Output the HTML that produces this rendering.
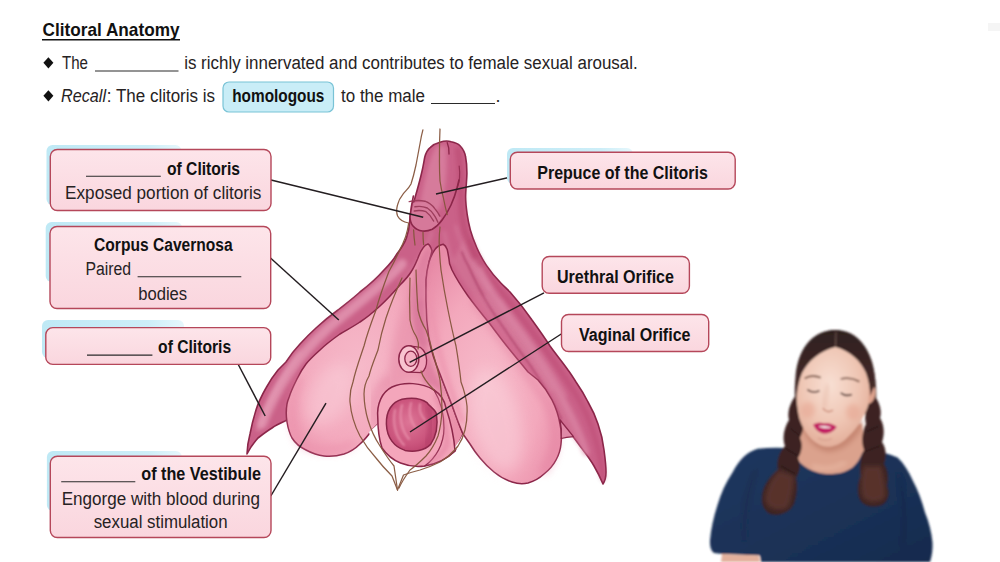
<!DOCTYPE html>
<html>
<head>
<meta charset="utf-8">
<title>Clitoral Anatomy</title>
<style>
html,body{margin:0;padding:0;background:#fff;}
body{width:1000px;height:562px;overflow:hidden;font-family:"Liberation Sans",sans-serif;}
svg{display:block;}
text{font-family:"Liberation Sans",sans-serif;fill:#1a1a1a;}
.b{font-weight:bold;fill:#111;}
.r{fill:#262223;}
.box{fill:url(#gBox);stroke:#b5475a;stroke-width:1.4;}
.sh{fill:url(#gSh);}
.ul{stroke:#2a2a2a;stroke-width:1.1;}
.ld{stroke:#231d20;stroke-width:1.45;fill:none;}
</style>
</head>
<body>
<svg width="1000" height="562" viewBox="0 0 1000 562">
<rect width="1000" height="562" fill="#ffffff"/>

<defs>
<linearGradient id="gBox" x1="0" y1="0" x2="0" y2="1"><stop offset="0" stop-color="#fde5ea"/><stop offset="1" stop-color="#fad6de"/></linearGradient>
<linearGradient id="gSh" x1="0" y1="0" x2="1" y2="0"><stop offset="0" stop-color="#bfe9f5"/><stop offset="0.75" stop-color="#cdeef8"/><stop offset="1" stop-color="#e6f7fc"/></linearGradient>
</defs>
<rect id="smudge" x="988" y="23" width="12" height="8" fill="#f5f5f5"/>
<!-- ===== heading & bullets ===== -->
<g id="heading">
<text class="b" x="42.5" y="35.8" font-size="18.6" textLength="137" lengthAdjust="spacingAndGlyphs">Clitoral Anatomy</text>
<rect x="42" y="39" width="138" height="1.5" fill="#111"/>

<path d="M48.4 57.2 L53.4 62.8 L48.4 68.4 L43.4 62.8Z" fill="#111"/>
<text class="r" x="62" y="69.3" font-size="18" textLength="26" lengthAdjust="spacingAndGlyphs">The</text>
<line class="ul" x1="95" y1="71" x2="178.5" y2="71"/>
<text class="r" x="184.2" y="69.3" font-size="18" textLength="453.5" lengthAdjust="spacingAndGlyphs">is richly innervated and contributes to female sexual arousal.</text>

<path d="M48.4 90.2 L53.4 95.8 L48.4 101.4 L43.4 95.8Z" fill="#111"/>
<text class="r" x="61" y="101.8" font-size="18" font-style="italic" textLength="45" lengthAdjust="spacingAndGlyphs">Recall</text>
<text class="r" x="106.8" y="101.8" font-size="18" textLength="108.2" lengthAdjust="spacingAndGlyphs">: The clitoris is</text>
<rect x="223" y="82" width="110.5" height="30" rx="6" fill="#c9edf7" stroke="#79c3d6" stroke-width="1.2"/>
<text class="b" x="232.2" y="102" font-size="18" textLength="92.2" lengthAdjust="spacingAndGlyphs">homologous</text>
<text class="r" x="341" y="101.8" font-size="18" textLength="84" lengthAdjust="spacingAndGlyphs">to the male</text>
<line class="ul" x1="431" y1="103.5" x2="495" y2="103.5"/>
<text class="r" x="495.5" y="101.8" font-size="18">.</text>
</g>

<!-- ILLUS-BEGIN -->
<defs>
<linearGradient id="gCrusL" x1="0" y1="0" x2="1" y2="1">
<stop offset="0" stop-color="#c65a80"/><stop offset="0.5" stop-color="#cf668b"/><stop offset="1" stop-color="#c4527a"/>
</linearGradient>
<linearGradient id="gCrusR" x1="0" y1="0" x2="1" y2="0.25">
<stop offset="0" stop-color="#d97c9c"/><stop offset="0.45" stop-color="#cf6a8d"/><stop offset="1" stop-color="#bd4a72"/>
</linearGradient>
<radialGradient id="gBulbL" cx="0.42" cy="0.55" r="0.6">
<stop offset="0" stop-color="#f6b9c9"/><stop offset="0.6" stop-color="#f3a9bd"/><stop offset="1" stop-color="#ea90aa"/>
</radialGradient>
<radialGradient id="gBulbR" cx="0.45" cy="0.6" r="0.65">
<stop offset="0" stop-color="#f7bccb"/><stop offset="0.6" stop-color="#f3a8bc"/><stop offset="1" stop-color="#e88ba7"/>
</radialGradient>
<linearGradient id="gBody" x1="0" y1="0" x2="1" y2="0">
<stop offset="0" stop-color="#c25379"/><stop offset="0.35" stop-color="#d67a9a"/><stop offset="0.7" stop-color="#c95f85"/><stop offset="1" stop-color="#b8466e"/>
</linearGradient>
<radialGradient id="gVag" cx="0.45" cy="0.45" r="0.6">
<stop offset="0" stop-color="#dd7596"/><stop offset="0.7" stop-color="#cb557d"/><stop offset="1" stop-color="#bd446e"/>
</radialGradient>
<filter id="bl2" x="-20%" y="-20%" width="140%" height="140%"><feGaussianBlur stdDeviation="2"/></filter>
<filter id="bl4" x="-30%" y="-30%" width="160%" height="160%"><feGaussianBlur stdDeviation="4"/></filter>
<filter id="bl7" x="-30%" y="-30%" width="160%" height="160%"><feGaussianBlur stdDeviation="7"/></filter>
</defs>
<g id="illustration" stroke-linejoin="round" stroke-linecap="round">
<!-- crura + body silhouette -->
<path id="crura" d="M440 142.3 C444 140.8 448 140.6 451.2 141.8 C455 142.6 458 143.8 460 145.8 C463 149 465 153 465.6 157 C466.6 162 466.9 168 466.9 173 C466.8 181 465.6 190 465.6 197 C465.6 203 466.4 209 467.2 214.6 C468 220 469 225 470.4 230.2 C472 236 474.3 242 476.8 247.8 C479.5 254 482.8 260 486.4 265.4 C490.5 271.5 495.5 277.5 500.8 283 C504 286.2 507 289 510 292 C518 301 525.5 310.5 532 320 C538.5 329 544.5 337.5 550 346 C556 354.5 562.5 362 568 370 C571 374 573.5 378 576 382 C580.5 388.5 584.5 395 588 402 C592 409 595.5 416.5 598 424 C601 432.5 603 441.5 604 450 C605 457.5 606 465 606 472 C606 477 605 481 603 484 C600.5 478 597.5 472 594 466 C590 459 585 452.5 580 446 C576 440.5 572 435 568 430 L560 420 L520 400 L430 380 L330 400 L287 420 L285 421 C280.5 423 276 425 272 428 C267 431 262.5 434.5 258 438 C254 442.5 250 448 247 454 C247.2 447 248.3 440.5 250 434 C251.5 426 253.5 418 256 410 C258.5 402 262 395 266 388 C269.5 381.5 273.5 375.5 278 370 L286 362 C290 355.5 294.8 349.5 300 344 C305 338.5 310.5 333 316 328 C323 321.5 330.5 315.5 338 310 C345.5 304 353 298.5 360 292 C368.5 285.5 377 278 384 270 C389 265 393.5 260 396.8 254 C400.8 249 404.4 243.8 406.4 238 C408.2 233 409.3 227.5 409.6 222 L410.4 214.6 C411.5 208.5 413.5 203 415.2 197 C417.5 189 419.8 181 421.6 173 C423 167.5 423.8 162 424.8 157 C426 152.5 427.8 149.5 430.4 147.4 C433 144.8 436.5 143.2 440 142.3Z" fill="#ca6188" stroke="#8b2649" stroke-width="1.6"/>

<!-- right crus lighter inner band -->
<path d="M452 262 C462 282 478 304 496 326 C516 350 540 378 560 420 C566 428 574 438 580 446 C574 420 560 392 544 366 C524 336 500 306 484 282 C474 266 468 250 466 236 Z" fill="#d67b9b" opacity="0.55" filter="url(#bl2)"/>
<path d="M470 240 C478 262 492 282 508 300 C530 328 556 362 578 398 C592 422 600 450 603 478" fill="none" stroke="#b8436c" stroke-width="5" opacity="0.45" filter="url(#bl2)"/>

<path d="M476 262 C484 280 496 300 512 322 C530 346 548 372 562 398 C572 416 580 434 586 452" fill="none" stroke="#dd89a7" stroke-width="7" opacity="0.7" filter="url(#bl2)"/>
<path d="M462 252 C464 258 466 262 468.7 266.3 C473.5 277.5 479 288.8 485.4 299.6 C491.4 310 498 320 505 329.8 C513 342 522 354 530.7 366 C536 374 541 382 545.9 390.3 C552 400 557 409 561 419" fill="none" stroke="#a93b64" stroke-width="1.8" opacity="0.75" filter="url(#pb1)"/>
<!-- left crus highlight -->
<path d="M402 264 C382 286 354 306 328 328 C302 352 278 382 262 424" fill="none" stroke="#e294b0" stroke-width="10" opacity="0.85" filter="url(#bl2)"/>
<path d="M300 352 C284 372 270 396 258 430" fill="none" stroke="#e9a4bc" stroke-width="3" opacity="0.6" filter="url(#bl2)"/>


<path d="M432 232 C426 250 414 268 400 282 M444 232 C446 240 448 250 452 262 M456 226 C462 248 474 270 490 290" fill="none" stroke="#de8dab" stroke-width="2.4" opacity="0.55" filter="url(#bl2)"/>
<path d="M500 300 C522 330 548 362 566 396 M486 296 C506 326 532 356 552 390" fill="none" stroke="#e397b1" stroke-width="2.2" opacity="0.5" filter="url(#bl2)"/>
<!-- left bulb + centre -->
<path id="bulbL" d="M428 244 C424 245 420.5 251 417.6 259 C415.5 264 413.5 268.5 411 272 C408 277 404 281 400 285 C393.5 292.5 387 299.5 380 306 C373.5 312 367 317.5 360 322 C353.5 326.5 346.5 330 340 334 C333 339 326 344 320 350 C315 354.5 310 359 306 364 C302.6 368.4 299.6 373.6 297 379 C294 385 291 391 289.2 397 C288 400 287.3 402 287 404 C286 410 286 416 287 422 C288 428 289.5 433.5 292 438 C295.5 443.5 300.5 447.5 306 450 C311.5 453 317.5 455.3 324 456 C330.5 456.8 337.5 456 344 454 C350 452 355.5 448.5 360 444 C364.5 440 368.5 435 372 430 L378 424 L380 440 L382 448 C387 455 393.5 460 400.5 463 C408 466 416.5 467.3 424.7 466 C435.5 464 446.5 458.5 455 451 L463 434 L440 374 L429 340 L426 300 L426 280 L429 262 L432 251 C431 247.5 429.8 245 428 244Z" fill="url(#gBulbL)" stroke="#8b2649" stroke-width="1.5"/>
<!-- left bulb soft shading -->
<path d="M300 380 C292 400 290 425 300 442 C312 452 336 452 352 444" fill="none" stroke="#e98aa7" stroke-width="6" opacity="0.6" filter="url(#bl4)"/>
<ellipse cx="330" cy="395" rx="20" ry="34" fill="#fad0da" opacity="0.5" filter="url(#bl7)" transform="rotate(28 330 395)"/>
<!-- centre region shading -->
<path d="M412 284 C404 304 396 326 392 348 C390 364 386 384 380 404 C392 392 402 384 412 380 C424 378 436 384 446 398 L440 374 L429 340 L426 300 L426 284Z" fill="#e58aa6" opacity="0.55" filter="url(#bl4)"/>
<path d="M378 424 C372 410 374 392 386 380" fill="none" stroke="#e07d9d" stroke-width="7" opacity="0.5" filter="url(#bl4)"/>

<path d="M424 300 C422 320 424 340 428 352 C430 362 434 372 440 382 L446 396 C440 390 432 386 424 384 L422 372 C426 366 426 356 421 350 C416 340 414 320 416 300Z" fill="#d56f95" opacity="0.55" filter="url(#bl2)"/>
<!-- white leaf below the vestibule -->
<path d="M369 432 C372 446 380 462 390 476 L397.5 490 L404 476 C424 470 448 462 462 442 L463 434 C456 450 440 462 424.7 466 C410 468 392 462 382 448 L378 424Z" fill="#ffffff" stroke="none"/>

<!-- right bulb -->
<path id="bulbR" d="M443.2 244.3 C440 245 437 246.5 435 249.4 C432.5 253 430.3 257.5 429 262 C427.3 268 426.3 274 426 280 L426 300 C426 313.5 427 327 429 340 C431.5 352 435.5 363.5 440 374 C444 384.5 448 395 452 405 C455.5 415 459 425 463 434 L470 444 C473 449 476.5 453.8 480 458 C484.3 463.2 489 468 494 472 C499.5 476.5 505.5 480 512 482 C517.3 483.8 522.7 484.2 528 483 C534 481.3 539.5 478.2 544 474 C549 470 553.3 465.3 556 460 C558.8 455 560.5 449.7 561 444 C561.8 437.5 561.5 430.5 560 424 C558.5 415.5 555.8 407.5 552 400 C548.3 392.8 543.5 386 538 380 L528 372 C522 364.5 516 357.5 510 350 C503 341.5 496.5 332.8 490 324 C482.5 314.8 475 305.5 468 296 C462 287.5 456.5 279 452 270 L449.6 263.8 C449 258.8 448.2 254 447.2 249.4 C446.2 246.8 444.8 245 443.2 244.3Z" fill="url(#gBulbR)" stroke="#8b2649" stroke-width="1.5"/>
<ellipse cx="496" cy="420" rx="24" ry="52" fill="#fad0da" opacity="0.55" filter="url(#bl7)" transform="rotate(-14 496 420)"/>
<path d="M474 300 C496 334 528 372 548 404 C558 426 558 452 544 470" fill="none" stroke="#e27f9f" stroke-width="7" opacity="0.55" filter="url(#bl4)"/>
<path d="M430 290 C432 330 442 370 462 420" fill="none" stroke="#ec93ad" stroke-width="6" opacity="0.6" filter="url(#bl2)"/>
<!-- lighter wedge between right bulb and crus tip -->
<path d="M560 420 C561.4 426 561.8 432 561.2 438.5 C565 437.6 569.4 437 573.4 436.6 C569 431 564.4 425.4 560 420Z" fill="#e08aa8" stroke="#8b2649" stroke-width="1.2"/>

<!-- vaginal tube/ring -->
<path d="M377.8 418 C376.5 404 382 392 392 387 C404 381.5 422 382.5 434 390 C441 394.5 444.5 400 446 408 C450 420 454 436 455 451 C447 459 436 464 424.7 466 C416 467.3 408 466 400.5 463 C393 460 386.5 454.5 382 448 C379 439 377.8 428 377.8 418Z" fill="#f4a6bb" stroke="#8b2649" stroke-width="1.5"/>
<path d="M434 390 C440 400 444 414 444 428 C444 444 436 458 424.7 466" fill="none" stroke="#8b2649" stroke-width="1.3"/>
<path d="M386.4 424 C386 411 392 402 402 399.2 C411 397.4 421 398.2 427 402.6 C429 406.4 434.6 408.4 436.4 413.6 C438 424 436.4 436 430.6 444.4 C424.4 450.6 414 452.4 405 450.4 C394.4 447 386.8 438 386.4 424Z" fill="url(#gVag)" stroke="#8b2649" stroke-width="1.5"/>
<path d="M395 410 C392.5 422 395 436 404 445 M402 405 C399 416 401 430 409 439 M411 403 C408.5 411 410 420 415 427 M420 404 C419 410 421 416 425 420" fill="none" stroke="#ea93ad" stroke-width="2" opacity="0.85" filter="url(#pb1)"/>
<path d="M428 408 C432 418 432 434 426 444" fill="none" stroke="#a93560" stroke-width="4" opacity="0.5" filter="url(#bl2)"/>
<path d="M436 396 C442 408 446 424 447 444 C444 452 438 458 430 462" fill="none" stroke="#e07d9d" stroke-width="5" opacity="0.55" filter="url(#bl2)"/>
<!-- urethral orifice -->
<path d="M409 345.8 L420.5 347.4 C424 350 426.4 354.6 426.6 360 C426.8 365.6 425 370 421.6 372.6 L409 372.2" fill="#f0a0b8" stroke="#8b2649" stroke-width="1.3"/>
<ellipse cx="408.8" cy="359" rx="10" ry="13.2" fill="#f8c3d0" stroke="#8b2649" stroke-width="1.5"/>
<ellipse cx="410.8" cy="358.8" rx="6" ry="7.6" fill="#f5b0c3" stroke="#8b2649" stroke-width="1.3"/>
<!-- centre shadow strip next to right bulb -->
<path d="M428 246 C420 256 414 272 411 290 C409 310 412 330 420 346 L430 346 C427 330 426 312 426 296 C426 280 428 262 432 251Z" fill="#d7769a" opacity="0.6" filter="url(#bl2)"/>

<!-- body / prepuce shading -->
<path d="M436 146 C428 160 424 184 420 204 C424 214 432 216 440 208 C446 190 448 166 446 146Z" fill="#dc86a4" opacity="0.7" filter="url(#bl2)"/>
<path d="M458 150 C462 170 460 196 462 216 C464 232 470 250 480 264" fill="none" stroke="#b5426b" stroke-width="6" opacity="0.5" filter="url(#bl2)"/>
<!-- glans -->

<path d="M411 203 C410.4 208 410 213 410 217.3 C410.2 221 411.2 224 413 226 C415.5 229 418.8 230.6 422.4 231 C425.8 231.4 429.2 230.6 432.3 229.2 C436.2 227 439.6 223.6 441 218 C437 210 430 204 422 202.5 C418 202 414 202.2 411 203Z" fill="#d87e9e" opacity="0.85"/>
<path d="M413.4 196 C412.6 200 411.6 206 410.8 211 C410.3 213.4 410.1 215.6 410 217.3 C410.2 221 411.2 224 413 226 C415.5 229 418.8 230.6 422.4 231 C425.8 231.4 429.2 230.6 432.3 229.2 C436.2 227 439.6 223.6 442.3 219.8 C445.8 215.2 448.6 210.2 451 205 C453.6 199.4 455.6 193.5 457.2 187.5 L459 180" fill="none" stroke="#8b2649" stroke-width="1.6"/>
<path d="M409.2 201.6 C414.5 200.4 420 200.2 424.9 201.2 C428.8 202.6 432.2 205.2 434.8 208.6 C436.8 211 438.5 213.5 439.8 216.1 M414.9 206.8 C419 206 423.4 206.4 427.3 208 C430.4 210 432.9 212.9 434.8 216.1 C436 218 437 220.2 437.9 222.3 M414.3 211 C418.2 210.2 422.4 210.4 426 211.7 C429.2 214 431.8 217.4 433.6 221" fill="none" stroke="#9a3a58" stroke-width="1.4" opacity="0.95"/>
<!-- hood fold line top -->
<path d="M447.2 142.6 C448.6 146 449.2 150 449 154" fill="none" stroke="#8b2649" stroke-width="1.3"/>
<path d="M459.2 166 C460.2 174 459.6 182 457.2 187.5" fill="none" stroke="#8b2649" stroke-width="1.2" opacity="0.8"/>

<!-- thin brown outlines (labia) -->
<g fill="none" stroke="#85553c" stroke-width="1.25" opacity="0.95">
<path d="M422.9 129.8 C421.8 134 421 137.5 420.5 141 C419 149 417.5 157 416 165 C414.6 171.5 413 178 411 184 C409 188 406 190.5 403.2 193.8 C400.6 197 398.4 200.8 397.5 205 C396.4 209 396.4 213 397.6 216 C399.4 219.6 403 222 408.7 223 C408 228 407 232.5 405.6 236.6 C404 241 402.2 245.4 400 249.4 C396.6 257 392.8 264.6 388.8 271.8 C384 284.5 379.5 297 376 310 C371.5 322 367 334 364 346 C360 358 355.5 370 353 382 C350.5 388.5 349.6 395 350 402 C351 414 354.5 425.5 360 436 C364.5 444 370 451.5 376 458 C381 464.5 386.5 470.5 392 476 L397.5 490"/>
<path d="M402 278 C396 291 390.5 304.5 386 318 C382.6 328.5 380 339.2 378 350 C374.6 359 371 367.5 369 376 C365.5 382 364 388 364 394 C364.2 403 365.6 412 368 420 C370.8 429.5 375 438.5 380 446 C384.4 453 389 460 394 466 L397.5 490"/>
<path d="M410 278 C409.4 292 409.4 306 410 320 C411 326 413 331.5 416 336 C418 340 419 345 418 349 M421 371 C423 378 428 384 434 390"/>
<path d="M416 270 C416.4 283.5 417 297 418 310 C419.6 317.5 422.4 324.2 426 330 C428.6 336.5 430.6 343.2 432 350 C435 360 438 370 440 380 C441.4 390 442 400 442 410 C441.6 419 440.4 428 438 436 C435 443.5 431 450.5 426 456 C421 461 415.6 466 410 470 C405.6 476 401.6 482.4 399 488"/>
<path d="M440 129 C439.6 138.5 439.4 147.8 439.5 157 C439.4 165 439.5 173 440 181 C440.8 186.5 441.9 191.8 443.2 197 C444.4 203 445.7 209 447.2 214.6 M440 227 C439.4 232.3 439.1 237.7 439.2 243 C439.4 252 440 261 441 270 C443 283.5 445.4 297 448 310 C450.4 322 453 334 456 346 C458 358 459.8 370 461 382 C464 390 466.2 398 467 406 C467.4 414.5 466.8 422.5 465 430 C463.5 436 461.2 441.4 458 446 C452.8 452.5 446.8 458 440 462 C433.5 465.2 426.8 468 420 470 C414.4 471.4 408.8 473 403.5 475 L397.5 490"/>
<path d="M423 232.3 C423 236.5 423.2 240.6 423.6 244.7 M413.6 229.8 C413.8 235 414.3 240 415 245"/>
</g>
</g>

<!-- ILLUS-END -->

<!-- ===== leader lines ===== -->
<g id="leaders">
<line class="ld" x1="271" y1="180" x2="423.2" y2="217.2"/>
<line class="ld" x1="510" y1="177.2" x2="436" y2="194"/>
<line class="ld" x1="270.5" y1="258" x2="338.8" y2="320"/>
<line class="ld" x1="544" y1="292.8" x2="409.6" y2="362.4"/>
<line class="ld" x1="562" y1="333.5" x2="410" y2="432"/>
<line class="ld" x1="238" y1="364" x2="265.2" y2="416"/>
<line class="ld" x1="270.8" y1="496" x2="326" y2="403.2"/>
</g>

<!-- ===== label boxes ===== -->
<g id="labels">
<!-- 1 -->
<rect class="sh" x="46.5" y="145" width="135" height="60" rx="6"/>
<rect class="box" x="50.3" y="149.5" width="220.7" height="61" rx="7"/>
<line class="ul" x1="86" y1="176.3" x2="160.8" y2="176.3"/>
<text class="b" x="167" y="174.8" font-size="18" textLength="73" lengthAdjust="spacingAndGlyphs">of Clitoris</text>
<text class="r" x="65.1" y="198.7" font-size="18" textLength="196.3" lengthAdjust="spacingAndGlyphs">Exposed portion of clitoris</text>
<!-- 2 -->
<rect class="sh" x="45.7" y="222" width="136.5" height="60" rx="6"/>
<rect class="box" x="50" y="226.5" width="220.7" height="82" rx="7"/>
<text class="b" x="94.1" y="251.4" font-size="18" textLength="138.6" lengthAdjust="spacingAndGlyphs">Corpus Cavernosa</text>
<text class="r" x="85.5" y="274.8" font-size="18" textLength="45.6" lengthAdjust="spacingAndGlyphs">Paired</text>
<line class="ul" x1="137.6" y1="276.8" x2="241.3" y2="276.8"/>
<text class="r" x="138.2" y="299.6" font-size="18" textLength="49" lengthAdjust="spacingAndGlyphs">bodies</text>
<!-- 3 -->
<rect class="sh" x="42" y="320" width="142" height="38" rx="6"/>
<rect class="box" x="45.8" y="327.6" width="224.9" height="36.8" rx="7"/>
<line class="ul" x1="87" y1="355.1" x2="152.4" y2="355.1"/>
<text class="b" x="158.1" y="353.1" font-size="18" textLength="73" lengthAdjust="spacingAndGlyphs">of Clitoris</text>
<!-- 4 -->
<rect class="sh" x="46.9" y="451" width="135" height="60" rx="6"/>
<rect class="box" x="50.3" y="456.2" width="220.7" height="81.3" rx="7"/>
<line class="ul" x1="61.2" y1="481.8" x2="135.3" y2="481.8"/>
<text class="b" x="141.3" y="480.3" font-size="18" textLength="119.6" lengthAdjust="spacingAndGlyphs">of the Vestibule</text>
<text class="r" x="61.7" y="504.5" font-size="18" textLength="198.4" lengthAdjust="spacingAndGlyphs">Engorge with blood during</text>
<text class="r" x="93.7" y="527.9" font-size="18" textLength="133.9" lengthAdjust="spacingAndGlyphs">sexual stimulation</text>
<!-- 5 -->
<rect class="sh" x="507" y="148" width="126" height="36" rx="6"/>
<rect class="box" x="510.3" y="152.2" width="224.9" height="36.8" rx="7"/>
<text class="b" x="537.3" y="178.5" font-size="18" textLength="170.6" lengthAdjust="spacingAndGlyphs">Prepuce of the Clitoris</text>
<!-- 6 -->
<rect class="box" x="542.2" y="256.5" width="147.2" height="36.8" rx="7"/>
<text class="b" x="557" y="283" font-size="18" textLength="117" lengthAdjust="spacingAndGlyphs">Urethral Orifice</text>
<!-- 7 -->
<rect class="box" x="561.5" y="314.5" width="147.2" height="37" rx="7"/>
<text class="b" x="579" y="340.6" font-size="18" textLength="111.5" lengthAdjust="spacingAndGlyphs">Vaginal Orifice</text>
</g>

<!-- PRES-BEGIN -->
<defs>
<radialGradient id="gFace" cx="0.45" cy="0.38" r="0.7">
<stop offset="0" stop-color="#f8dfd3"/><stop offset="0.55" stop-color="#efc6b4"/><stop offset="1" stop-color="#dfa792"/>
</radialGradient>
<linearGradient id="gDress" x1="0" y1="0" x2="1" y2="1">
<stop offset="0" stop-color="#20385f"/><stop offset="0.5" stop-color="#1b3258"/><stop offset="1" stop-color="#172b4e"/>
</linearGradient>
<linearGradient id="gHair" x1="0" y1="0" x2="0" y2="1">
<stop offset="0" stop-color="#2e1f1f"/><stop offset="1" stop-color="#4a2c2a"/>
</linearGradient>
<filter id="pb1" x="-10%" y="-10%" width="120%" height="120%"><feGaussianBlur stdDeviation="0.8"/></filter>
<filter id="pb2" x="-30%" y="-30%" width="160%" height="160%"><feGaussianBlur stdDeviation="2.2"/></filter>
</defs>
<g id="presenter" filter="url(#pb1)">
<!-- hair back -->
<path d="M835.4 330 C812 330 797 350 795.4 378 C794 392 795 404 797 412 L874 414 C876.5 404 877 392 875.4 381 C873 350 858 330 835.4 330Z" fill="url(#gHair)"/>
<!-- neck -->
<path d="M803 426 L795 452 C800 468 814 478 826 478 C842 478 858 468 866 450 L862 424Z" fill="#dba28d"/>
<path d="M803 430 C808 444 820 452 830 452 C842 451 854 442 862 428 L862 420 L803 422Z" fill="#c4846f" opacity="0.85" filter="url(#pb2)"/>
<path d="M812 466 C820 470 834 470 846 462" stroke="#e8b7a3" stroke-width="5" fill="none" opacity="0.7" filter="url(#pb2)"/>
<!-- dress -->
<path d="M793.8 448.6 C782 447.4 769 447.4 757.5 448.8 C747 452 739 460 732.5 472.5 C726 482 721 493 717.5 505 C713.5 517 711 529 710 540 C709.6 546 711 551 714 553 L722.5 554 L760 555.5 L761 562 L930 562 C932 556 932.8 549 932.5 542.5 C931.5 532 929 522 925 512.5 C922 501 918 490 912.5 480 C908.5 471 903.5 463 897.5 457.5 C886 452.5 874 450 862.5 452.5 C860 459 856.5 464 852.5 467.5 C847 471.5 841 473.4 835 473.8 C829 474.4 823 474 817.5 472.5 C810.5 470.5 804.5 467 800 462.5 C797 458.5 795 453.8 793.8 448.6Z" fill="url(#gDress)"/>
<path d="M756 470 C748 488 744 510 744 540" fill="none" stroke="#142746" stroke-width="3" opacity="0.6" filter="url(#pb2)"/>
<path d="M898 474 C904 492 906 514 904 544" fill="none" stroke="#142746" stroke-width="3" opacity="0.6" filter="url(#pb2)"/>
<!-- arm peeking -->
<path d="M722 554 L759 555.5 L760 562 L721 562Z" fill="#e3b09c"/>
<!-- braids -->
<path d="M797 394 C790 402 787 412 789 420 C784 428 782 438 785 446 C779 452 776 462 778 470 C770 476 763 486 762 496 C761 504 764 511 770 514 C780 517 790 512 794 504 C797 496 798 486 796 478 C800 472 801 464 798 458 C802 452 803 444 800 438 C804 430 805 422 802 416 C804 410 804 402 801 396Z" fill="#3c2423"/>
<path d="M871 398 C866 406 864 416 866 424 C862 432 861 442 864 450 C860 458 859 468 861 476 C857 484 857 494 860 500 C864 507 874 508 882 505 C889 501 890 492 887 486 C889 478 888 470 884 464 C887 456 886 448 882 442 C885 434 884 424 880 418 C882 412 880 404 876 398Z" fill="#3c2423"/>
<path d="M779 470 C771 478 765 490 765 500 C768 510 778 512 788 508 C792 498 794 486 794 476Z" fill="#5c352e" opacity="0.9" filter="url(#pb2)"/>
<path d="M864 466 C860 476 860 490 863 498 C870 504 880 503 885 498 C886 488 884 476 881 466Z" fill="#5c352e" opacity="0.9" filter="url(#pb2)"/>
<path d="M790 428 L800 436 M785 448 L798 456 M781 466 L795 474" stroke="#2a1818" stroke-width="1.6" fill="none" opacity="0.8"/>
<path d="M866 432 L879 426 M864 452 L880 446" stroke="#2a1818" stroke-width="1.6" fill="none" opacity="0.8"/>
<!-- face -->
<path d="M835.4 346.7 C822 350 811 357 804.7 365.4 C799 372 796.6 378 796.6 384 C796 394 796.5 406 799.4 418.8 C802 427 806 433 810 437.5 C815 443 821 446.4 827.4 446.8 C835 447 842 443 847.4 437.5 C853 432 858.5 426 862 418.8 C866.5 412 869 404.5 870 397.4 C871 392 870.8 388 870 384 C869 377 866.6 371 863.4 365.4 C857 357 848 350 835.4 346.7Z" fill="url(#gFace)"/>
<!-- ear -->
<path d="M869 386 C873 384 876 387 875.5 393 C875 399 872 403 868.5 404Z" fill="#dfa48f"/>
<!-- hair front (over forehead) -->
<path d="M835.4 330 C814 331 799 348 796.4 374 C795.6 382 795.8 392 796.6 398 C797.4 388 799 380 802 373 C808 361 820 351 835.4 346.7 C850 351 861 361 866 373 C868.6 380 870 388 870.4 396 C872.6 390 875.6 384 875.4 381 C873 350 858 331 835.4 330Z" fill="url(#gHair)"/>
<path d="M836 332 L835.6 346" stroke="#b08c7e" stroke-width="1" opacity="0.55"/>
<!-- brows -->
<path d="M804.7 378.6 C809 375.6 815 375.4 820.7 377.6" stroke="#6b4638" stroke-width="1.8" fill="none" opacity="0.85"/>
<path d="M840.7 379 C846 377.4 853 378 859.4 381.6" stroke="#6b4638" stroke-width="1.8" fill="none" opacity="0.85"/>
<!-- closed eyes -->
<path d="M807.4 389.6 C811 392.4 815.5 392.6 819.4 390.8" stroke="#4b2d28" stroke-width="1.6" fill="none"/>
<path d="M840.7 392.8 C844 395.6 848 396 851.8 394.6" stroke="#4b2d28" stroke-width="1.6" fill="none"/>
<!-- nose shadow -->
<path d="M823 408 C825 412 830 412.6 833 410" stroke="#c98a76" stroke-width="1.6" fill="none" opacity="0.9"/>
<path d="M828 384 C826 394 824.5 402 824 408" stroke="#dca48f" stroke-width="2.2" fill="none" opacity="0.6" filter="url(#pb2)"/>
<!-- cheeks -->
<ellipse cx="808" cy="410" rx="7" ry="8" fill="#e6a592" opacity="0.55" filter="url(#pb2)"/>
<ellipse cx="853" cy="412" rx="7" ry="8" fill="#e6a592" opacity="0.55" filter="url(#pb2)"/>
<!-- lips -->
<path d="M813.2 424.4 C817 422.4 821 422.2 824.6 423.6 C828.6 422.8 833 424 836.7 426.8 C834 431.4 829.4 433.8 824.6 433.6 C819.6 433.2 815.4 429.8 813.2 424.4Z" fill="#c21a62"/>
<path d="M818.4 426.2 C822.6 425.6 827.4 426 831.4 427.4 C828 428.8 822.4 428.6 818.4 426.2Z" fill="#f7e9ea"/>
<path d="M818 438 C822 440.6 828 440.8 832 438.6" stroke="#d59d8a" stroke-width="1.6" fill="none" opacity="0.7"/>
</g>

<!-- PRES-END -->
</svg>
</body>
</html>
